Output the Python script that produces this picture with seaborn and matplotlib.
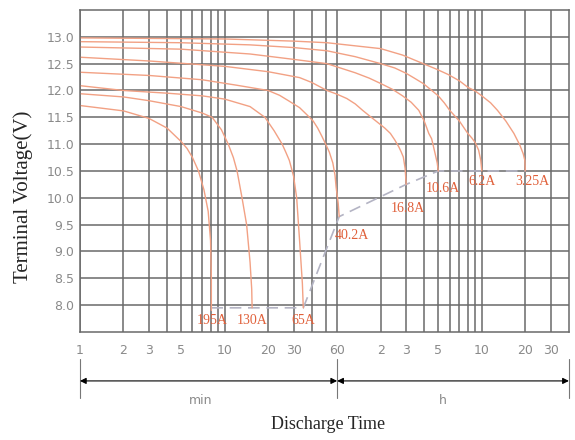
import pandas as pd
import matplotlib
matplotlib.use("Agg")
import matplotlib.pyplot as plt
import seaborn as sns

currents = ["195A", "130A", "65A", "40.2A", "16.8A", "10.6A", "6.2A", "3.25A"]

# discharge time in minutes, terminal voltage in V
t_195 = [1, 2, 3, 4, 5, 5.5, 6, 6.6, 7.2, 7.7, 8.0, 8.1, 8.1]
v_195 = [11.72, 11.62, 11.48, 11.3, 11.05, 10.92, 10.75, 10.5, 10.15, 9.75, 9.2, 8.5, 7.9]

t_130 = [1, 2, 3, 5, 7, 8.2, 9.5, 10.6, 11.5, 12.2, 13.2, 14.2, 15, 15.4, 15.5]
v_130 = [11.94, 11.88, 11.81, 11.7, 11.58, 11.5, 11.27, 11.0, 10.75, 10.5, 10.0, 9.5, 8.8, 8.3, 7.95]

t_65 = [1, 2, 4, 7, 10, 15, 19, 22, 25, 26.5, 28, 29, 30, 31.5, 33, 34.5, 35]
v_65 = [12.09, 12.0, 11.95, 11.9, 11.84, 11.7, 11.5, 11.25, 11.0, 10.85, 10.7, 10.55,
        10.4, 10.0, 9.2, 8.4, 7.95]

t_40 = [1, 3, 7, 12, 20, 24, 28, 33, 37, 41, 44, 47, 50, 53, 56, 58, 59, 61, 62]
v_40 = [12.34, 12.28, 12.2, 12.1, 12.0, 11.91, 11.8, 11.68, 11.55, 11.43, 11.3, 11.15,
        11.0, 10.85, 10.65, 10.42, 10.2, 9.9, 9.65]

t_16 = [1, 3, 10, 20, 33, 40, 51, 60, 70, 80, 90, 100, 115, 128, 140, 150, 160, 166,
        172, 177, 180]
v_16 = [12.62, 12.55, 12.45, 12.35, 12.24, 12.15, 12.0, 11.93, 11.85, 11.75, 11.63, 11.53,
        11.4, 11.3, 11.2, 11.08, 10.95, 10.86, 10.76, 10.55, 10.25]

t_10 = [1, 5, 15, 30, 51, 80, 100, 120, 145, 170, 195, 220, 240, 258, 270, 285, 295, 300]
v_10 = [12.81, 12.77, 12.68, 12.58, 12.5, 12.33, 12.23, 12.13, 12.02, 11.9, 11.78, 11.63,
        11.43, 11.2, 11.1, 10.83, 10.65, 10.5]

t_6 = [1, 5, 15, 30, 51, 80, 120, 150, 180, 205, 236, 265, 300, 330, 360, 420, 480, 510,
       540, 570, 590, 600]
v_6 = [12.91, 12.89, 12.85, 12.8, 12.74, 12.63, 12.5, 12.42, 12.32, 12.23, 12.13, 12.02,
       11.9, 11.77, 11.63, 11.43, 11.2, 11.12, 11.03, 10.89, 10.7, 10.5]

t_3 = [1, 10, 30, 51, 120, 170, 236, 290, 350, 420, 480, 540, 600, 690, 770, 880, 1000,
       1100, 1160, 1190, 1200]
v_3 = [12.98, 12.96, 12.92, 12.89, 12.78, 12.66, 12.5, 12.4, 12.3, 12.18, 12.06, 11.99,
       11.9, 11.77, 11.63, 11.43, 11.2, 10.98, 10.82, 10.7, 10.5]

curve_t = [t_195, t_130, t_65, t_40, t_16, t_10, t_6, t_3]
curve_v = [v_195, v_130, v_65, v_40, v_16, v_10, v_6, v_3]

# end-of-discharge voltage line
end_t = [8.1, 35, 62, 180, 300, 1200]
end_v = [7.95, 7.95, 9.65, 10.25, 10.5, 10.5]

label_t = [8.2, 15.5, 35, 76, 186, 325, 605, 1343]
label_v = [7.72, 7.72, 7.72, 9.3, 9.8, 10.17, 10.3, 10.3]

x_grid = [1, 2, 3, 4, 5, 6, 7, 8, 9, 10, 20, 30, 40, 50, 60,
          120, 180, 240, 300, 360, 420, 480, 540, 600, 1200, 1800]
x_tick_pos = [1, 2, 3, 5, 10, 20, 30, 60, 120, 180, 300, 600, 1200, 1800]
x_tick_lab = ["1", "2", "3", "5", "10", "20", "30", "60", "2", "3", "5", "10", "20", "30"]
y_ticks = [8.0, 8.5, 9.0, 9.5, 10.0, 10.5, 11.0, 11.5, 12.0, 12.5, 13.0]

curve_color = "#f2a184"
label_color = "#e0603a"
grid_color = "#6a6a6a"
tick_color = "#8a8a8a"

sns.set_style("white")

frames = []
for name, t, v in zip(currents, curve_t, curve_v):
    frames.append(pd.DataFrame({"current": name, "t": t, "v": v}))
df = pd.concat(frames, ignore_index=True)

fig = plt.figure(figsize=(5.75, 4.4), dpi=100)
ax = fig.add_axes([0.139, 0.2455, 0.8504, 0.7318])

sns.lineplot(data=df, x="t", y="v", units="current", estimator=None, sort=False,
             color=curve_color, lw=1.0, ax=ax)
ax.plot(end_t, end_v, color="#b4b4c4", lw=1.2, ls=(0, (7, 4)), zorder=1.5)

ax.set_xscale("log")
ax.set_xlim(1, 2400)
ax.set_ylim(7.5, 13.5)

ax.xaxis.set_minor_locator(matplotlib.ticker.NullLocator())
ax.set_xticks(x_grid)
ax.set_xticklabels([x_tick_lab[x_tick_pos.index(x)] if x in x_tick_pos else "" for x in x_grid])
ax.set_yticks(y_ticks)
ax.set_yticklabels([f"{y:.1f}" for y in y_ticks])
ax.tick_params(axis="both", length=0, colors=tick_color, labelsize=9)
ax.tick_params(axis="x", pad=9)
ax.tick_params(axis="y", pad=4)

ax.grid(True, color=grid_color, lw=1.1)
ax.set_axisbelow(True)
for s in ax.spines.values():
    s.set_color(grid_color)
    s.set_linewidth(1.1)

ax.set_xlabel("")
ax.set_ylabel("")

for name, t, v in zip(currents, label_t, label_v):
    ax.text(t, v, name, color=label_color, fontsize=10, family="Liberation Serif",
            ha="center", va="center")

# min / h dimension arrows under the axis
tr = ax.get_xaxis_transform()
ax.annotate("", xy=(1, -0.152), xytext=(60, -0.152), xycoords=tr, textcoords=tr,
            arrowprops=dict(arrowstyle="<|-|>", color="black", lw=0.8,
                            shrinkA=0, shrinkB=0, mutation_scale=9))
ax.annotate("", xy=(60, -0.152), xytext=(2400, -0.152), xycoords=tr, textcoords=tr,
            arrowprops=dict(arrowstyle="<|-|>", color="black", lw=0.8,
                            shrinkA=0, shrinkB=0, mutation_scale=9))
for x in [1, 60, 2400]:
    ax.plot([x, x], [-0.084, -0.205], transform=tr, color="#777777", lw=0.8, clip_on=False)
ax.text(6.8, -0.214, "min", transform=tr, color=tick_color, fontsize=9, ha="center", va="center")
ax.text(320, -0.214, "h", transform=tr, color=tick_color, fontsize=9, ha="center", va="center")

fig.text(0.570, 0.035, "Discharge Time", family="Liberation Serif", fontsize=13,
         ha="center", va="center")
fig.text(0.040, 0.552, "Terminal Voltage(V)", family="Liberation Serif", fontsize=15,
         rotation=90, ha="center", va="center")

fig.savefig("out.png", dpi=100)
